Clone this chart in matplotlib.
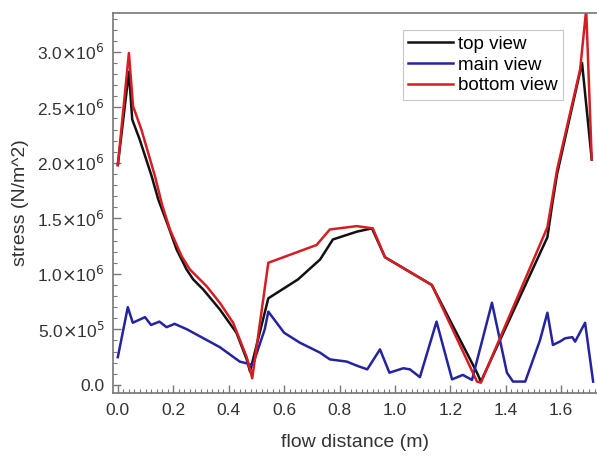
import numpy as np
import matplotlib
matplotlib.use("Agg")
import matplotlib.pyplot as plt
from matplotlib.ticker import FuncFormatter, MultipleLocator

plt.rcParams['font.family'] = ['Liberation Sans', 'DejaVu Sans']

# top view
top_x = [0.0, 0.04, 0.052, 0.079, 0.122, 0.146, 0.182, 0.212, 0.248, 0.272,
         0.308, 0.368, 0.428, 0.465, 0.477, 0.543, 0.65, 0.73, 0.776, 0.862,
         0.917, 0.964, 1.133, 1.296, 1.31, 1.55, 1.567, 1.585, 1.675, 1.71]
top_y = [1.98e6, 2.82e6, 2.39e6, 2.21e6, 1.88e6, 1.67e6, 1.43e6, 1.22e6,
         1.04e6, 0.95e6, 0.86e6, 0.68e6, 0.47e6, 0.23e6, 0.12e6, 0.78e6,
         0.95e6, 1.13e6, 1.31e6, 1.38e6, 1.41e6, 1.15e6, 0.90e6, 0.11e6,
         0.03e6, 1.33e6, 1.62e6, 1.90e6, 2.90e6, 2.03e6]

# main view
main_x = [0.0, 0.036, 0.054, 0.098, 0.12, 0.15, 0.176, 0.205, 0.25, 0.368,
          0.44, 0.487, 0.53, 0.543, 0.6, 0.657, 0.73, 0.765, 0.826, 0.866,
          0.9, 0.946, 0.98, 1.03, 1.054, 1.09, 1.15, 1.206, 1.245, 1.278,
          1.35, 1.404, 1.426, 1.47, 1.523, 1.55, 1.57, 1.595, 1.614, 1.64,
          1.65, 1.686, 1.715]
main_y = [0.25e6, 0.70e6, 0.56e6, 0.61e6, 0.54e6, 0.57e6, 0.52e6, 0.55e6,
          0.50e6, 0.34e6, 0.21e6, 0.18e6, 0.50e6, 0.66e6, 0.47e6, 0.38e6,
          0.29e6, 0.23e6, 0.21e6, 0.17e6, 0.14e6, 0.32e6, 0.11e6, 0.15e6,
          0.14e6, 0.07e6, 0.57e6, 0.05e6, 0.09e6, 0.045e6, 0.74e6, 0.11e6,
          0.03e6, 0.03e6, 0.40e6, 0.65e6, 0.36e6, 0.39e6, 0.42e6, 0.43e6,
          0.39e6, 0.56e6, 0.03e6]

# bottom view
bottom_x = [0.0, 0.04, 0.055, 0.085, 0.134, 0.16, 0.188, 0.23, 0.26, 0.32,
            0.368, 0.416, 0.465, 0.485, 0.543, 0.717, 0.765, 0.862, 0.92,
            0.964, 1.133, 1.296, 1.31, 1.55, 1.567, 1.585, 1.668, 1.69, 1.71]
bottom_y = [1.98e6, 2.99e6, 2.51e6, 2.30e6, 1.88e6, 1.62e6, 1.40e6, 1.16e6,
            1.04e6, 0.89e6, 0.74e6, 0.56e6, 0.25e6, 0.06e6, 1.10e6, 1.26e6,
            1.40e6, 1.43e6, 1.41e6, 1.15e6, 0.90e6, 0.03e6, 0.02e6, 1.42e6,
            1.67e6, 1.94e6, 2.84e6, 3.38e6, 2.03e6]


def sci_fmt(v, pos):
    if abs(v) < 1e-9:
        return "0.0"
    e = int(np.floor(np.log10(abs(v))))
    m = v / 10 ** e
    return r"%.1f$\times$10$^{%d}$" % (m, e)


fig = plt.figure(figsize=(5.97, 4.59), dpi=100)
ax = fig.add_axes([0.189, 0.144, 0.811, 0.828])

ax.plot(top_x, top_y, color='#111111', lw=1.8, label='top view')
ax.plot(main_x, main_y, color='#2424a0', lw=1.8, label='main view')
ax.plot(bottom_x, bottom_y, color='#d41e24', lw=1.8, label='bottom view')

ax.set_xlim(-0.018, 1.729)
ax.set_ylim(-0.072e6, 3.351e6)

ax.xaxis.set_major_locator(MultipleLocator(0.2))
ax.xaxis.set_minor_locator(MultipleLocator(0.02))
ax.yaxis.set_major_locator(MultipleLocator(5e5))
ax.yaxis.set_minor_locator(MultipleLocator(1e5))
ax.xaxis.set_major_formatter(FuncFormatter(lambda v, p: "%.1f" % v))
ax.yaxis.set_major_formatter(FuncFormatter(sci_fmt))

ax.tick_params(which='both', direction='in', colors='#777777',
               labelcolor='#333333', labelsize=12.5)
ax.tick_params(which='major', length=6, width=1)
ax.tick_params(which='minor', length=3, width=0.8)
ax.tick_params(axis='x', pad=7)
ax.tick_params(axis='y', pad=6)

for side in ['left', 'top', 'bottom']:
    ax.spines[side].set_color('#777777')
    ax.spines[side].set_linewidth(1.2)
ax.spines['right'].set_visible(False)

ax.set_xlabel('flow distance (m)', fontsize=14, color='#333333', labelpad=12)
ax.set_ylabel('stress (N/m^2)', fontsize=14, color='#333333', labelpad=6)

leg = ax.legend(loc='upper right', bbox_to_anchor=(0.93, 0.955),
                fontsize=13.5, frameon=True, fancybox=False,
                handlelength=2.4, handletextpad=0.25, borderpad=0.3,
                labelspacing=0.2, borderaxespad=0)
leg.get_frame().set_edgecolor('#bbbbbb')
leg.get_frame().set_linewidth(0.8)

fig.savefig('out.png', dpi=100)
